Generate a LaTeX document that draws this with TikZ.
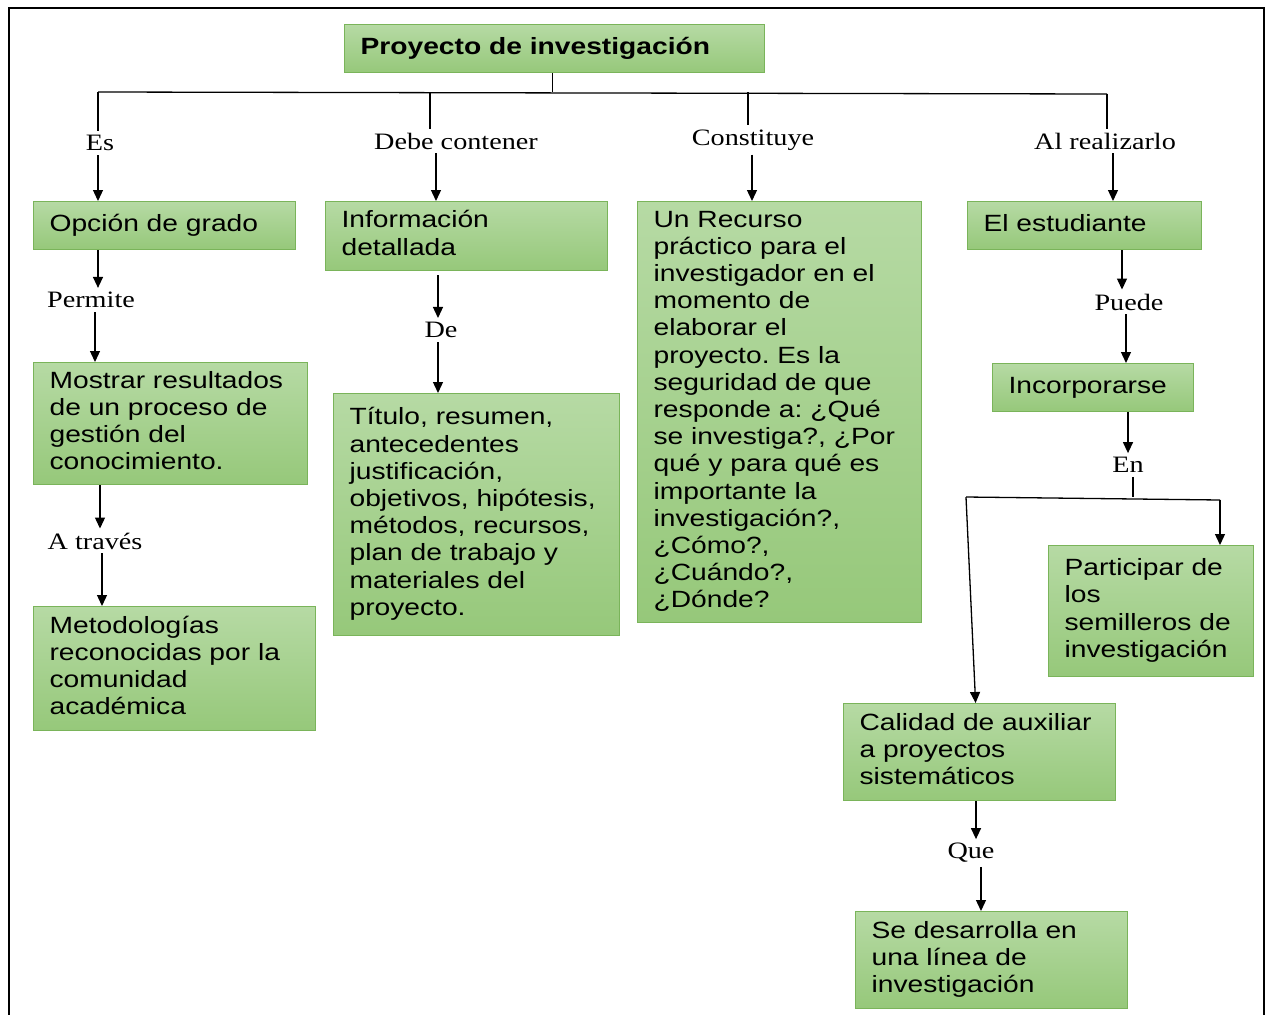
\documentclass[tikz,border=0pt]{standalone}
\usepackage{fontspec}
\setmainfont{Liberation Serif}[FakeStretch=1.2]
\newfontfamily\boxfam{Liberation Sans}[FakeStretch=1.2]
\usetikzlibrary{arrows.meta,calc}
\definecolor{gtop}{RGB}{182,218,164}
\definecolor{gbot}{RGB}{150,200,122}
\definecolor{gline}{RGB}{122,180,90}
\newcommand\boxfont{\boxfam\fontsize{23.5}{27.2}\selectfont\frenchspacing}
\newcommand\labfont{\rmfamily\fontsize{23.5}{27}\selectfont}
\newcommand\lns[1]{\begin{tabular}{@{}l@{}}#1\end{tabular}}
\tikzset{
  gbox/.style={draw=gline, line width=1.2pt, top color=gtop, bottom color=gbot,
    anchor=north west, inner xsep=16pt, inner ysep=2pt, align=left, font=\boxfont},
  lab/.style={font=\labfont, inner sep=4pt},
  arr/.style={line width=1.3pt, -{Triangle[width=10pt,length=11pt]}},
  ln/.style={line width=1.3pt},
}
\begin{document}
\begin{tikzpicture}[x=1pt,y=-1pt]
\useasboundingbox (0,0) rectangle (1267,1015);
\draw[line width=2pt] (9,1016) -- (9,8) -- (1264,8) -- (1264,1016);

% boxes
\node[gbox, minimum width=420pt, minimum height=48pt, text width=388pt] (root) at (344,24) {\lns{\bfseries Proyecto de investigación}};
\node[gbox, minimum width=262pt, minimum height=48pt, text width=230pt] (opcion) at (33,201) {\lns{Opción de grado}};
\node[gbox, minimum width=282pt, minimum height=69pt, text width=250pt] (info) at (325,201) {\lns{Información\\detallada}};
\node[gbox, minimum width=284pt, minimum height=421pt, text width=252pt] (recurso) at (637,201) {\lns{Un Recurso\\práctico para el\\investigador en el\\momento de\\elaborar el\\proyecto. Es la\\seguridad de que\\responde a: ¿Qué\\se investiga?, ¿Por\\qué y para qué es\\importante la\\investigación?,\\¿Cómo?,\\¿Cuándo?,\\¿Dónde?}};
\node[gbox, minimum width=234pt, minimum height=48pt, text width=202pt] (estud) at (967,201) {\lns{El estudiante}};
\node[gbox, minimum width=274pt, minimum height=122pt, text width=242pt] (mostrar) at (33,362) {\lns{Mostrar resultados\\de un proceso de\\gestión del\\conocimiento.}};
\node[gbox, minimum width=286pt, minimum height=242pt, text width=254pt] (titulo) at (333,393) {\lns{Título, resumen,\\antecedentes\\justificación,\\objetivos, hipótesis,\\métodos, recursos,\\plan de trabajo y\\materiales del\\proyecto.}};
\node[gbox, minimum width=282pt, minimum height=124pt, text width=250pt] (metod) at (33,606) {\lns{Metodologías\\reconocidas por la\\comunidad\\académica}};
\node[gbox, minimum width=201pt, minimum height=48pt, text width=169pt] (incorp) at (992,363) {\lns{Incorporarse}};
\node[gbox, minimum width=205pt, minimum height=131pt, text width=173pt] (partic) at (1048,545) {\lns{Participar de\\los\\semilleros de\\investigación}};
\node[gbox, minimum width=272pt, minimum height=97pt, text width=240pt] (calidad) at (843,703) {\lns{Calidad de auxiliar\\a proyectos\\sistemáticos}};
\node[gbox, minimum width=272pt, minimum height=97pt, text width=240pt] (sedes) at (855,911) {\lns{Se desarrolla en\\una línea de\\investigación}};

% labels
\node[lab] (es) at (100,143) {Es};
\node[lab] (debe) at (456,141) {Debe contener};
\node[lab] (const) at (753,140) {Constituye};
\node[lab] (alreal) at (1105,141) {Al realizarlo};
\node[lab] (permite) at (91,300) {Permite};
\node[lab] (de) at (441,330) {De};
\node[lab] (atraves) at (95,541) {A través};
\node[lab] (puede) at (1129,302) {Puede};
\node[lab] (en) at (1128,465) {En};
\node[lab] (que) at (971,853) {Que};

% top tree
\coordinate (bl) at (98,92);
\coordinate (br) at (1107,94);
\draw[ln] (bl) -- (br);
\draw[ln] ([xshift=-2pt]root.south) -- ([xshift=-2pt]root.south |- bl);
\draw[ln] (bl) -- (bl |- es.north);
\draw[ln] ([xshift=-26pt]debe.north |- bl) -- ([xshift=-26pt]debe.north);
\draw[ln] ([xshift=-5pt]const.north |- bl) -- ([xshift=-5pt]const.north);
\draw[ln] (br) -- (br |- alreal.north);

\draw[arr] ([xshift=-2pt]es.south) -- ([xshift=-2pt]es.south |- opcion.north);
\draw[arr] ([xshift=-20pt]debe.south) -- ([xshift=-20pt]debe.south |- info.north);
\draw[arr] ([xshift=-1pt]const.south) -- ([xshift=-1pt]const.south |- recurso.north);
\draw[arr] ([xshift=8pt]alreal.south) -- ([xshift=8pt]alreal.south |- estud.north);

% left column
\draw[arr] ([xshift=7pt]permite.north |- opcion.south) -- ([xshift=7pt]permite.north);
\draw[arr] ([xshift=4pt]permite.south) -- ([xshift=4pt]permite.south |- mostrar.north);
\draw[arr] ([xshift=5pt]atraves.north |- mostrar.south) -- ([xshift=5pt]atraves.north);
\draw[arr] ([xshift=7pt]atraves.south) -- ([xshift=7pt]atraves.south |- metod.north);

% second column
\draw[arr] ([xshift=-3pt]de.north |- info.south) ++(0,4) -- ([xshift=-3pt]de.north);
\draw[arr] ([xshift=-3pt]de.south) -- ([xshift=-3pt]de.south |- titulo.north);

% right column
\draw[arr] ([xshift=-7pt]puede.north |- estud.south) -- ([xshift=-7pt]puede.north);
\draw[arr] ([xshift=-3pt]puede.south) -- ([xshift=-3pt]puede.south |- incorp.north);
\draw[arr] (en.north |- incorp.south) -- (en.north);
\coordinate (enL) at (966,497);
\coordinate (enR) at (1220,500);
\draw[ln] ([xshift=5pt]en.south) -- ([xshift=5pt]en.south |- enL);
\draw[ln] (enL) -- (enR);
\draw[arr] (enR) -- (enR |- partic.north);
\draw[arr] (enL) -- ([xshift=-4pt]calidad.north);
\draw[arr] ([xshift=5pt]que.north |- calidad.south) -- ([xshift=5pt]que.north);
\draw[arr] ([xshift=10pt]que.south) -- ([xshift=10pt]que.south |- sedes.north);
\end{tikzpicture}
\end{document}
